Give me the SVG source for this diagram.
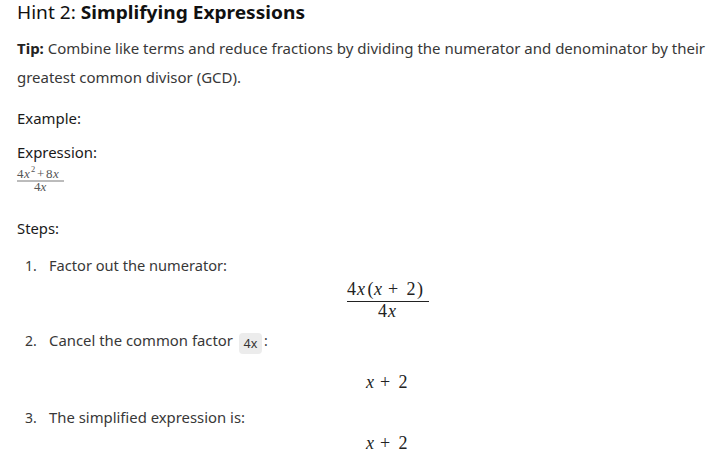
<svg xmlns="http://www.w3.org/2000/svg" width="722" height="461" viewBox="0 0 722 461">
<style>
  .t { font-family: "Noto Sans", "Open Sans", sans-serif; font-size: 14px; fill: #383838; }
  .l { font-family: "Noto Sans", "Open Sans", sans-serif; font-size: 14px; fill: #1a1a1a; }
  .h { font-family: "Noto Sans", "Open Sans", sans-serif; font-size: 18px; fill: #111; }
  .b { font-weight: bold; }
  .m { font-family: "Liberation Serif", "DejaVu Serif", serif; font-size: 18px; fill: #222; }
  .ms { font-family: "Liberation Serif", "DejaVu Serif", serif; font-size: 13px; fill: #555; }
  .sup { font-family: "Liberation Serif", "DejaVu Serif", serif; font-size: 8.5px; fill: #555; }
  .i { font-style: italic; }
  .code { font-family: "Noto Sans", "Open Sans", sans-serif; font-size: 12.5px; fill: #333; }
</style>
<rect width="722" height="461" fill="#fff"/>
<text class="h" x="17" y="19" textLength="288" lengthAdjust="spacingAndGlyphs">Hint 2: <tspan class="b">Simplifying Expressions</tspan></text>
<text class="t" x="17" y="54" textLength="688" lengthAdjust="spacingAndGlyphs"><tspan class="b" fill="#222">Tip:</tspan> Combine like terms and reduce fractions by dividing the numerator and denominator by their</text>
<text class="t" x="17" y="83" textLength="224" lengthAdjust="spacingAndGlyphs">greatest common divisor (GCD).</text>
<text class="l" x="17" y="124" textLength="64" lengthAdjust="spacingAndGlyphs">Example:</text>
<text class="l" x="17" y="158" textLength="80" lengthAdjust="spacingAndGlyphs">Expression:</text>
<g id="small-fraction">
  <text class="ms" x="17" y="177.5">4</text>
  <text class="ms i" x="24" y="177.5">x</text>
  <text class="sup" x="31" y="172">2</text>
  <text class="ms" x="37" y="177.5">+</text>
  <text class="ms" x="46" y="177.5">8</text>
  <text class="ms i" x="53" y="177.5">x</text>
  <line x1="17" y1="181" x2="64" y2="181" stroke="#555" stroke-width="0.8"/>
  <text class="ms" x="34" y="191">4</text>
  <text class="ms i" x="40.5" y="191">x</text>
</g>
<text class="l" x="17" y="234" textLength="42" lengthAdjust="spacingAndGlyphs">Steps:</text>
<text class="t" x="25" y="271">1.</text>
<text class="t" x="49" y="271" textLength="178" lengthAdjust="spacingAndGlyphs">Factor out the numerator:</text>
<g id="big-fraction">
  <text class="m" x="347" y="295">4</text>
  <text class="m i" x="357" y="295">x</text>
  <text class="m" x="367.5" y="295">(</text>
  <text class="m i" x="374" y="295">x</text>
  <text class="m" x="388" y="295">+</text>
  <text class="m" x="406.5" y="295">2</text>
  <text class="m" x="417" y="295">)</text>
  <line x1="347" y1="301.5" x2="429" y2="301.5" stroke="#222" stroke-width="1"/>
  <text class="m" x="378" y="317">4</text>
  <text class="m i" x="388" y="317">x</text>
</g>
<text class="t" x="25" y="346">2.</text>
<text class="t" x="49" y="346" textLength="184" lengthAdjust="spacingAndGlyphs">Cancel the common factor</text>
<rect x="239" y="333" width="23" height="21" rx="4" fill="#ececec"/>
<text class="code" x="250.5" y="348" text-anchor="middle">4x</text>
<text class="t" x="264" y="346">:</text>
<g id="result-1">
  <text class="m i" x="366" y="388">x</text>
  <text class="m" x="380" y="388">+</text>
  <text class="m" x="398.5" y="388">2</text>
</g>
<text class="t" x="25" y="423">3.</text>
<text class="t" x="49" y="423" textLength="196" lengthAdjust="spacingAndGlyphs">The simplified expression is:</text>
<g id="result-2">
  <text class="m i" x="366" y="449">x</text>
  <text class="m" x="380" y="449">+</text>
  <text class="m" x="398.5" y="449">2</text>
</g>
</svg>
